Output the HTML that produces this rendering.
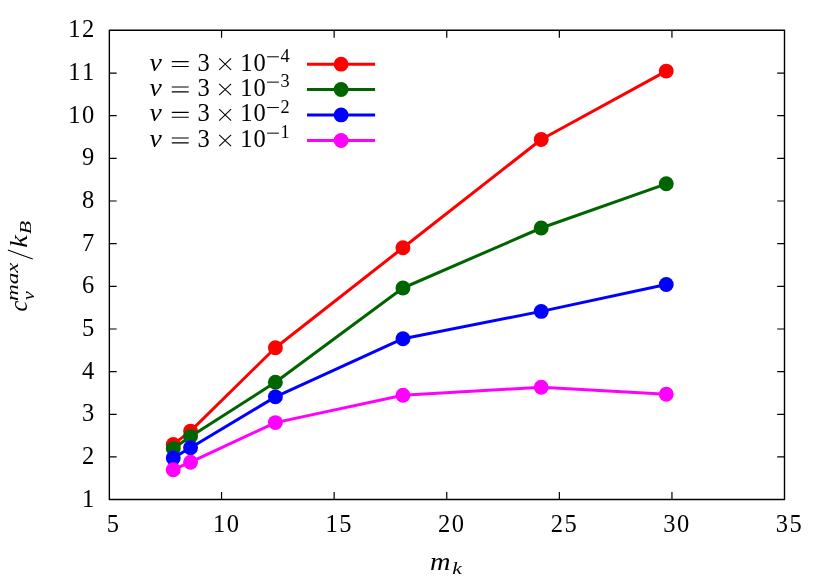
<!DOCTYPE html>
<html><head><meta charset="utf-8"><title>plot</title>
<style>html,body{margin:0;padding:0;background:#fff;}svg{display:block;will-change:transform;}text{font-family:"Liberation Serif",serif;fill:#000;}</style></head><body>
<svg width="830" height="581" viewBox="0 0 830 581">
<rect x="0" y="0" width="830" height="581" fill="#fff"/>
<g stroke="#000" stroke-width="1.4" fill="none" stroke-linecap="butt" stroke-linejoin="round">
<rect x="109.35" y="30.25" width="675.15" height="469.25"/>
</g>
<g stroke="#000" stroke-width="1.2" fill="none" stroke-linecap="butt">
<path d="M109.35 456.96h7.3M784.5 456.96h-7.3"/>
<path d="M109.35 414.30h7.3M784.5 414.30h-7.3"/>
<path d="M109.35 371.64h7.3M784.5 371.64h-7.3"/>
<path d="M109.35 328.98h7.3M784.5 328.98h-7.3"/>
<path d="M109.35 286.32h7.3M784.5 286.32h-7.3"/>
<path d="M109.35 243.67h7.3M784.5 243.67h-7.3"/>
<path d="M109.35 201.01h7.3M784.5 201.01h-7.3"/>
<path d="M109.35 158.35h7.3M784.5 158.35h-7.3"/>
<path d="M109.35 115.69h7.3M784.5 115.69h-7.3"/>
<path d="M109.35 73.03h7.3M784.5 73.03h-7.3"/>
<path d="M221.55 499.5v-7.4M221.55 30.25v7.4"/>
<path d="M334.15 499.5v-7.4M334.15 30.25v7.4"/>
<path d="M446.75 499.5v-7.4M446.75 30.25v7.4"/>
<path d="M559.35 499.5v-7.4M559.35 30.25v7.4"/>
<path d="M671.95 499.5v-7.4M671.95 30.25v7.4"/>
</g>
<g font-size="24.5">
<text x="81.95" y="506.60">1</text>
<text x="81.95" y="463.94">2</text>
<text x="81.95" y="421.28">3</text>
<text x="81.95" y="378.62">4</text>
<text x="81.95" y="335.96">5</text>
<text x="81.95" y="293.30">6</text>
<text x="81.95" y="250.65">7</text>
<text x="81.95" y="207.99">8</text>
<text x="81.95" y="165.33">9</text>
<text x="68.20 81.95" y="122.67">10</text>
<text x="68.20 81.95" y="80.01">11</text>
<text x="68.20 81.95" y="37.35">12</text>
</g>
<g font-size="24.5">
<text x="106.82" y="531.80">5</text>
<text x="213.07 226.82" y="531.80">10</text>
<text x="325.60 339.35" y="531.80">15</text>
<text x="438.12 451.87" y="531.80">20</text>
<text x="550.65 564.40" y="531.80">25</text>
<text x="663.18 676.93" y="531.80">30</text>
<text x="775.70 789.45" y="531.80">35</text>
</g>
<polyline points="173.25,444.40 190.55,431.10 275.40,347.70 402.95,247.80 541.20,139.50 666.25,71.10" fill="none" stroke="#ff0000" stroke-width="3" stroke-linejoin="round"/>
<circle cx="173.25" cy="444.40" r="7.45" fill="#ff0000"/>
<circle cx="190.55" cy="431.10" r="7.45" fill="#ff0000"/>
<circle cx="275.40" cy="347.70" r="7.45" fill="#ff0000"/>
<circle cx="402.95" cy="247.80" r="7.45" fill="#ff0000"/>
<circle cx="541.20" cy="139.50" r="7.45" fill="#ff0000"/>
<circle cx="666.25" cy="71.10" r="7.45" fill="#ff0000"/>
<polyline points="173.25,448.60 190.55,436.60 275.40,382.30 402.95,288.00 541.20,228.00 666.25,183.80" fill="none" stroke="#006400" stroke-width="3" stroke-linejoin="round"/>
<circle cx="173.25" cy="448.60" r="7.45" fill="#006400"/>
<circle cx="190.55" cy="436.60" r="7.45" fill="#006400"/>
<circle cx="275.40" cy="382.30" r="7.45" fill="#006400"/>
<circle cx="402.95" cy="288.00" r="7.45" fill="#006400"/>
<circle cx="541.20" cy="228.00" r="7.45" fill="#006400"/>
<circle cx="666.25" cy="183.80" r="7.45" fill="#006400"/>
<polyline points="173.25,457.90 190.55,447.80 275.40,396.85 402.95,338.70 541.20,311.40 666.25,284.55" fill="none" stroke="#0000ff" stroke-width="3" stroke-linejoin="round"/>
<circle cx="173.25" cy="457.90" r="7.45" fill="#0000ff"/>
<circle cx="190.55" cy="447.80" r="7.45" fill="#0000ff"/>
<circle cx="275.40" cy="396.85" r="7.45" fill="#0000ff"/>
<circle cx="402.95" cy="338.70" r="7.45" fill="#0000ff"/>
<circle cx="541.20" cy="311.40" r="7.45" fill="#0000ff"/>
<circle cx="666.25" cy="284.55" r="7.45" fill="#0000ff"/>
<polyline points="173.25,469.70 190.55,462.20 275.40,422.60 402.95,395.30 541.20,387.30 666.25,394.20" fill="none" stroke="#ff00ff" stroke-width="3" stroke-linejoin="round"/>
<circle cx="173.25" cy="469.70" r="7.45" fill="#ff00ff"/>
<circle cx="190.55" cy="462.20" r="7.45" fill="#ff00ff"/>
<circle cx="275.40" cy="422.60" r="7.45" fill="#ff00ff"/>
<circle cx="402.95" cy="395.30" r="7.45" fill="#ff00ff"/>
<circle cx="541.20" cy="387.30" r="7.45" fill="#ff00ff"/>
<circle cx="666.25" cy="394.20" r="7.45" fill="#ff00ff"/>
<path d="M307 64.15H375.1" stroke="#ff0000" stroke-width="3" fill="none"/>
<circle cx="341.1" cy="64.15" r="7.45" fill="#ff0000"/>
<text x="149.6" y="70.60" font-size="24.5" font-style="italic" textLength="12.3" lengthAdjust="spacingAndGlyphs">ν</text>
<path d="M171.8 61.60H188.7M171.8 66.50H188.7" stroke="#000" stroke-width="1.05" fill="none"/>
<text x="197.4" y="70.60" font-size="24.5">3</text>
<path d="M219.2 58.45L231.1 69.85M231.1 58.45L219.2 69.85" stroke="#000" stroke-width="1.05" fill="none"/>
<text x="240.2 253.6" y="70.60" font-size="24.5">10</text>
<path d="M267.1 56.80H278.9" stroke="#000" stroke-width="1.0" fill="none"/>
<text x="280.4" y="61.85" font-size="18.3">4</text>
<path d="M307 89.5H375.1" stroke="#006400" stroke-width="3" fill="none"/>
<circle cx="341.1" cy="89.5" r="7.45" fill="#006400"/>
<text x="149.6" y="95.95" font-size="24.5" font-style="italic" textLength="12.3" lengthAdjust="spacingAndGlyphs">ν</text>
<path d="M171.8 86.95H188.7M171.8 91.85H188.7" stroke="#000" stroke-width="1.05" fill="none"/>
<text x="197.4" y="95.95" font-size="24.5">3</text>
<path d="M219.2 83.80L231.1 95.20M231.1 83.80L219.2 95.20" stroke="#000" stroke-width="1.05" fill="none"/>
<text x="240.2 253.6" y="95.95" font-size="24.5">10</text>
<path d="M267.1 82.15H278.9" stroke="#000" stroke-width="1.0" fill="none"/>
<text x="280.4" y="87.20" font-size="18.3">3</text>
<path d="M307 114.9H375.1" stroke="#0000ff" stroke-width="3" fill="none"/>
<circle cx="341.1" cy="114.9" r="7.45" fill="#0000ff"/>
<text x="149.6" y="121.35" font-size="24.5" font-style="italic" textLength="12.3" lengthAdjust="spacingAndGlyphs">ν</text>
<path d="M171.8 112.35H188.7M171.8 117.25H188.7" stroke="#000" stroke-width="1.05" fill="none"/>
<text x="197.4" y="121.35" font-size="24.5">3</text>
<path d="M219.2 109.20L231.1 120.60M231.1 109.20L219.2 120.60" stroke="#000" stroke-width="1.05" fill="none"/>
<text x="240.2 253.6" y="121.35" font-size="24.5">10</text>
<path d="M267.1 107.55H278.9" stroke="#000" stroke-width="1.0" fill="none"/>
<text x="280.4" y="112.60" font-size="18.3">2</text>
<path d="M307 140.5H375.1" stroke="#ff00ff" stroke-width="3" fill="none"/>
<circle cx="341.1" cy="140.5" r="7.45" fill="#ff00ff"/>
<text x="149.6" y="146.95" font-size="24.5" font-style="italic" textLength="12.3" lengthAdjust="spacingAndGlyphs">ν</text>
<path d="M171.8 137.95H188.7M171.8 142.85H188.7" stroke="#000" stroke-width="1.05" fill="none"/>
<text x="197.4" y="146.95" font-size="24.5">3</text>
<path d="M219.2 134.80L231.1 146.20M231.1 134.80L219.2 146.20" stroke="#000" stroke-width="1.05" fill="none"/>
<text x="240.2 253.6" y="146.95" font-size="24.5">10</text>
<path d="M267.1 133.15H278.9" stroke="#000" stroke-width="1.0" fill="none"/>
<text x="280.4" y="138.20" font-size="18.3">1</text>
<text x="430" y="569.8" font-size="24.5" font-style="italic" textLength="20.5" lengthAdjust="spacingAndGlyphs">m</text>
<text x="452.2" y="573.5" font-size="17.5" font-style="italic" textLength="9.6" lengthAdjust="spacingAndGlyphs">k</text>
<g transform="translate(26.9,312.5) rotate(-90)" font-style="italic">
<text x="1" y="0" font-size="24.5">c</text>
<text x="11.5" y="-9.0" font-size="17.5" textLength="38.5" lengthAdjust="spacingAndGlyphs">max</text>
<text x="12.3" y="6.7" font-size="17.5" textLength="9" lengthAdjust="spacingAndGlyphs">v</text>
<path d="M53.4 5.9L62.4 -19" stroke="#000" stroke-width="1.05" fill="none"/>
<text x="64.8" y="0" font-size="24.5" textLength="12.6" lengthAdjust="spacingAndGlyphs">k</text>
<text x="78.2" y="4.1" font-size="17.5" textLength="13.4" lengthAdjust="spacingAndGlyphs">B</text>
</g>
</svg></body></html>
